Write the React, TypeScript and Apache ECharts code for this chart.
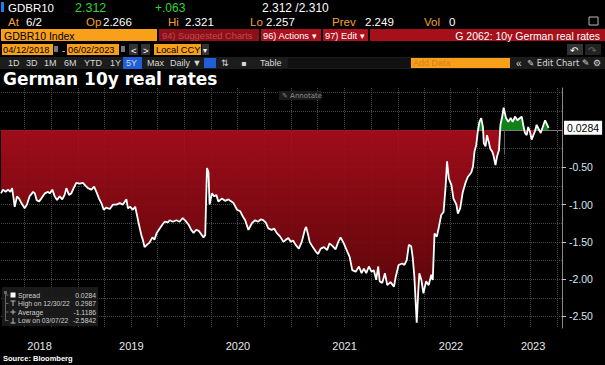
import React, { useEffect, useRef } from 'react';
import * as echarts from 'echarts';

// ---------------- data ----------------
const dates: string[] = [
  '2018-04-12','2018-04-19','2018-04-28','2018-05-06','2018-05-14','2018-05-20','2018-05-26','2018-05-29','2018-06-06','2018-06-13',
  '2018-06-21','2018-07-02','2018-07-10','2018-07-19','2018-07-31','2018-08-06','2018-08-12','2018-08-20','2018-08-28','2018-09-09',
  '2018-09-20','2018-09-26','2018-10-05','2018-10-13','2018-10-21','2018-10-30','2018-11-08','2018-11-16','2018-11-22','2018-12-01',
  '2018-12-09','2018-12-17','2018-12-26',
  '2019-01-07','2019-01-18','2019-01-27','2019-02-04','2019-02-16','2019-02-25','2019-03-05','2019-03-14','2019-03-22','2019-03-30',
  '2019-04-08','2019-04-20','2019-05-01','2019-05-13','2019-05-24','2019-06-04','2019-06-16','2019-06-21','2019-06-29','2019-07-08',
  '2019-07-16','2019-07-22','2019-07-29','2019-08-06','2019-08-11','2019-08-17','2019-08-25','2019-09-03','2019-09-13','2019-09-20',
  '2019-09-28','2019-10-08','2019-10-17','2019-10-25','2019-11-05','2019-11-11','2019-11-22','2019-12-04','2019-12-15','2019-12-26',
  '2020-01-07','2020-01-15','2020-01-24','2020-02-01','2020-02-10','2020-02-18','2020-02-26','2020-03-06','2020-03-12','2020-03-18',
  '2020-03-23','2020-03-27','2020-04-04','2020-04-12','2020-04-19','2020-04-26','2020-05-08','2020-05-19','2020-05-31','2020-06-06',
  '2020-06-17','2020-06-29','2020-07-10','2020-07-19','2020-07-27','2020-08-07','2020-08-19','2020-08-30','2020-09-10','2020-09-18',
  '2020-09-27','2020-10-07','2020-10-14','2020-10-26','2020-11-03','2020-11-12','2020-11-24','2020-12-05','2020-12-14','2020-12-22',
  '2020-12-31',
  '2021-01-07','2021-01-16','2021-01-27','2021-02-06','2021-02-17','2021-02-21','2021-02-28','2021-03-05','2021-03-14','2021-03-26',
  '2021-04-03','2021-04-12','2021-04-23','2021-05-04','2021-05-12','2021-05-21','2021-06-02','2021-06-11','2021-06-19','2021-06-30',
  '2021-07-12','2021-07-20','2021-07-29','2021-08-10','2021-08-21','2021-08-30','2021-09-07','2021-09-15','2021-09-24','2021-10-03',
  '2021-10-11','2021-10-19','2021-10-26','2021-10-31','2021-11-09','2021-11-18','2021-11-26','2021-12-07','2021-12-19','2021-12-25',
  '2022-01-04','2022-01-16','2022-01-24','2022-02-01','2022-02-08','2022-02-16','2022-02-21','2022-02-27','2022-03-03','2022-03-07',
  '2022-03-12','2022-03-16','2022-03-23','2022-03-30','2022-04-08','2022-04-17','2022-04-26','2022-05-01','2022-05-07','2022-05-15',
  '2022-05-22','2022-05-30','2022-06-07','2022-06-14','2022-06-19','2022-06-25','2022-07-04','2022-07-11','2022-07-21','2022-07-26',
  '2022-08-03','2022-08-12','2022-08-21','2022-08-29','2022-09-10','2022-09-16','2022-09-21','2022-09-27','2022-10-03','2022-10-08',
  '2022-10-14','2022-10-20','2022-10-23','2022-10-29','2022-11-03','2022-11-09','2022-11-14','2022-11-21','2022-11-25','2022-12-02',
  '2022-12-07','2022-12-14','2022-12-19','2022-12-25','2022-12-30',
  '2023-01-07','2023-01-15','2023-01-23','2023-01-30','2023-02-07','2023-02-15','2023-02-24','2023-03-02','2023-03-07','2023-03-13',
  '2023-03-19','2023-03-24','2023-03-30','2023-04-05','2023-04-11','2023-04-16','2023-04-22','2023-04-28','2023-05-06','2023-05-13',
  '2023-05-21','2023-05-26','2023-06-02'
];
const values: number[] = [
  -0.85,-0.80,-0.83,-0.80,-0.83,-0.78,-0.94,-1.03,-0.89,-0.92,
  -0.98,-1.05,-1.00,-0.89,-0.83,-0.85,-0.94,-0.96,-0.92,-0.85,
  -0.83,-0.85,-0.80,-0.89,-0.94,-0.89,-0.93,-0.87,-0.78,-0.87,
  -0.85,-0.78,-0.71,
  -0.72,-0.71,-0.75,-0.78,-0.80,-0.76,-0.83,-0.92,-0.98,-1.07,
  -1.04,-1.06,-1.00,-1.00,-0.98,-1.00,-0.93,-1.05,-1.03,-1.07,
  -1.03,-1.14,-1.27,-1.41,-1.47,-1.57,-1.54,-1.51,-1.44,-1.47,
  -1.38,-1.32,-1.27,-1.23,-1.24,-1.21,-1.23,-1.21,-1.23,-1.18,
  -1.23,-1.27,-1.34,-1.38,-1.34,-1.35,-1.39,-1.44,-1.41,-0.51,
  -0.56,-1.00,-0.85,-0.89,-0.87,-0.96,-0.92,-0.95,-0.93,-0.95,
  -0.98,-1.07,-1.09,-1.16,-1.21,-1.34,-1.25,-1.21,-1.23,-1.20,
  -1.21,-1.25,-1.32,-1.34,-1.32,-1.38,-1.43,-1.50,-1.47,-1.45,
  -1.50,
  -1.48,-1.54,-1.59,-1.50,-1.33,-1.30,-1.41,-1.50,-1.56,-1.63,
  -1.66,-1.59,-1.57,-1.61,-1.52,-1.55,-1.60,-1.50,-1.44,-1.52,
  -1.63,-1.70,-1.88,-1.90,-1.83,-1.92,-1.86,-1.92,-1.83,-1.90,
  -1.88,-2.01,-1.83,-2.03,-2.05,-1.92,-2.08,-2.04,-2.10,-1.97,
  -1.81,-1.79,-1.81,-1.74,-1.54,-1.56,-1.70,-1.97,-2.28,-2.5842,
  -2.19,-1.92,-2.01,-2.19,-2.03,-2.08,-1.94,-2.01,-1.39,-1.43,
  -1.30,-1.14,-1.10,-0.76,-0.42,-0.65,-0.74,-0.92,-1.00,-1.12,
  -1.05,-0.83,-0.71,-0.63,-0.57,-0.49,-0.29,-0.20,0.00,0.11,
  0.16,0.04,-0.18,-0.22,-0.07,-0.16,-0.25,-0.29,-0.34,-0.47,
  -0.36,-0.27,0.07,0.18,0.2987,
  0.16,0.11,0.16,0.11,0.18,0.13,0.16,0.18,0.07,-0.04,
  -0.07,0.04,-0.02,-0.13,-0.07,-0.02,0.07,0.02,-0.04,0.04,
  0.13,0.09,0.0284
];

const axisStart = '2018-04-12';
const axisEnd = '2023-07-18';
const yTickValues = [-2.5, -2.0, -1.5, -1.0, -0.5];
const yGridValues = [-2.5, -2.25, -2.0, -1.75, -1.5, -1.25, -1.0, -0.75, -0.5, -0.25, 0, 0.25, 0.5];
const years = [2018, 2019, 2020, 2021, 2022, 2023];

const legendNames = ['Spread', 'High on 12/30/22', 'Average', 'Low on 03/07/22'];
const legendValues = ['0.0284', '0.2987', '-1.1186', '-2.5842'];
const lastLabel = '0.0284';

const title = 'German 10y real rates';
const tickerName = 'GDBR10';
const quoteRow1 = ['2.312', '+.063', '2.312 /2.310'];
const quoteRow2Labels = ['At', 'Op', 'Hi', 'Lo', 'Prev', 'Vol'];
const quoteRow2Values = ['6/2', '2.266', '2.321', '2.257', '2.249', '0'];
const chartName = 'G 2062: 10y German real rates';
const periodButtons = ['1D', '3D', '1M', '6M', 'YTD', '1Y', '5Y', 'Max'];

// -------------- helpers --------------
const ts = (s: string) => Date.UTC(+s.slice(0, 4), +s.slice(5, 7) - 1, +s.slice(8, 10));
const FONT = '"Liberation Sans", Arial, sans-serif';

const T = (text: string, x: number, y: number, fill: string, size = 11, extra: any = {}) => ({
  type: 'text', x, y, silent: true, z: 101,
  style: { text, fill, fontSize: size, fontFamily: FONT, verticalAlign: 'middle', ...extra },
});
const R = (x: number, y: number, w: number, h: number, fill: string, extra: any = {}) => ({
  type: 'rect', silent: true, z: 100,
  shape: { x, y, width: w, height: h }, style: { fill, ...extra },
});
const L = (x1: number, y1: number, x2: number, y2: number, stroke: string, w = 1) => ({
  type: 'line', silent: true, z: 101,
  shape: { x1, y1, x2, y2 }, style: { stroke, lineWidth: w },
});

export default function App() {
  const ref = useRef<HTMLDivElement>(null);

  useEffect(() => {
    if (!ref.current) return;
    const chart = echarts.init(ref.current, null, { renderer: 'svg' });

    const xMin = ts(axisStart);
    const xMax = ts(axisEnd);
    const yearStarts = years.slice(1).map((y) => Date.UTC(y, 0, 1));
    const quarterStarts: number[] = [];
    years.forEach((y) => [0, 3, 6, 9].forEach((m) => {
      const t = Date.UTC(y, m, 1);
      if (t > xMin && t < xMax) quarterStarts.push(t);
    }));
    const labelMids = years.map((y) => {
      const a = Math.max(xMin, Date.UTC(y, 0, 1));
      const b = Math.min(xMax, Date.UTC(y + 1, 0, 1));
      return (a + b) / 2;
    });

    const pts = dates.map((d, i) => [ts(d), values[i]]);
    const neg = dates.map((d, i) => [ts(d), Math.min(values[i], 0)]);
    const pos = dates.map((d, i) => [ts(d), Math.max(values[i], 0)]);
    const last = values[values.length - 1];

    const orange = '#f9a01b';
    const amber = '#f5a12e';
    const red = '#ad111d';
    const green = '#2fd52f';

    const graphics: any[] = [];
    // Row 1
    graphics.push(R(1, 2, 3, 10, '#1e7cf2'));
    graphics.push(T(tickerName, 8, 7.5, '#ffffff', 11.5));
    graphics.push(T(quoteRow1[0], 75, 7.5, green, 12.5));
    graphics.push(T(quoteRow1[1], 155, 7.5, green, 12));
    graphics.push(T(quoteRow1[2], 262, 7.5, '#ffffff', 12));
    // Row 2
    const r2x = [8, 86, 168, 250, 332, 424];
    const r2v = [26, 103, 185, 266, 365, 449];
    quoteRow2Labels.forEach((l, i) => {
      graphics.push(T(l, r2x[i], 21.5, amber, 11.5));
      graphics.push(T(quoteRow2Values[i], r2v[i], 21.5, '#ffffff', 11.5));
    });
    graphics.push(R(589, 17, 9, 8, 'transparent', { stroke: '#bbbbbb', lineWidth: 1 }));
    // Row 3
    graphics.push(R(1, 29, 156, 12, orange));
    graphics.push(T(tickerName + ' Index', 4, 35.5, '#000000', 10.5));
    graphics.push(R(159, 29, 100, 12, '#8e0f18'));
    graphics.push(T('94) Suggested Charts', 162, 35.5, '#c04a52', 9.3));
    graphics.push(R(261, 29, 60, 12, red));
    graphics.push(T('96) Actions ▾', 263, 35.5, '#ffffff', 9.3));
    graphics.push(R(323, 29, 45, 12, red));
    graphics.push(T('97) Edit ▾', 325, 35.5, '#ffffff', 9.3));
    graphics.push(R(370, 29, 235, 12, '#a5101b'));
    graphics.push(T(chartName, 600, 35.5, '#ffffff', 10.5, { align: 'right' }));
    // Row 4
    graphics.push(R(2, 44, 51, 11, orange));
    graphics.push(T('04/12/2018', 3, 50, '#000000', 9.3));
    graphics.push(R(54, 46, 4, 6, '#777777'));
    graphics.push(T('-', 62, 50, '#cccccc', 10));
    graphics.push(R(67, 44, 52, 11, orange));
    graphics.push(T('06/02/2023', 68, 50, '#000000', 9.3));
    graphics.push(R(121, 46, 4, 6, '#777777'));
    graphics.push(R(129, 44, 9, 11, '#333333'));
    graphics.push(T('<', 131, 50, '#ffffff', 9.5));
    graphics.push(R(141, 44, 9, 11, '#333333'));
    graphics.push(T('>', 143, 50, '#ffffff', 9.5));
    graphics.push(R(154, 44, 47, 11, orange));
    graphics.push(T('Local CCY', 156, 50, '#000000', 9.3));
    graphics.push(R(202, 44, 7, 11, '#333333'));
    graphics.push(T('▾', 203, 50, '#ffffff', 8));
    graphics.push(R(567, 44, 16, 11, '#333333'));
    graphics.push(T('↶', 570, 50, '#ffffff', 10, { fontFamily: 'DejaVu Sans' }));
    graphics.push(R(585, 44, 16, 11, '#222222'));
    graphics.push(T('↷', 588, 50, '#666666', 10, { fontFamily: 'DejaVu Sans' }));
    // Row 5 toolbar
    graphics.push(R(0, 57, 605, 12, '#1c1c1c'));
    const pbx = [8, 26, 44, 64, 84, 110, 126, 147];
    periodButtons.forEach((b, i) => {
      if (b === '5Y') graphics.push(R(123, 57, 19, 12, '#1f5fd8'));
      graphics.push(T(b, pbx[i], 63, '#d8d8d8', 9));
    });
    graphics.push(T('Daily ▼', 170, 63, '#d8d8d8', 9));
    graphics.push(R(204, 58, 12, 10, '#1f5fd8'));
    graphics.push(T('⇅', 221, 63, '#d8d8d8', 9, { fontFamily: 'DejaVu Sans' }));
    graphics.push(T('▪', 241, 63, '#d8d8d8', 8, { fontFamily: 'DejaVu Sans' }));
    graphics.push(T('Table', 260, 63, '#d8d8d8', 9));
    graphics.push(R(288, 58, 122, 10, '#111111'));
    graphics.push(R(411, 58, 99, 10, orange));
    graphics.push(T('Add Data', 413, 63, '#d1811a', 9));
    graphics.push(T('«', 516, 63, '#d8d8d8', 10));
    graphics.push(T('✎ Edit Chart', 527, 63, '#d8d8d8', 8.5, { fontFamily: '"DejaVu Sans", sans-serif' }));
    graphics.push(T('✎', 582, 63, '#d8d8d8', 9, { fontFamily: 'DejaVu Sans' }));
    graphics.push(T('⚙', 593, 63, '#d8d8d8', 9, { fontFamily: 'DejaVu Sans' }));
    // Title
    graphics.push(T(title, 3, 79, '#ffffff', 17, { fontWeight: 'bold', fontFamily: '"DejaVu Sans", sans-serif' }));
    // Annotate
    graphics.push(R(279, 91, 42, 9, '#1a1a1a'));
    graphics.push(T('✎ Annotate', 282, 95.5, '#8c8c8c', 7, { fontFamily: '"DejaVu Sans", sans-serif' }));
    // Legend box
    graphics.push(R(2, 287, 96, 39, 'rgba(28,28,28,0.9)'));
    graphics.push(R(4, 291, 3, 3, '#666666'));
    graphics.push(L(5.5, 294, 5.5, 321, '#666666'));
    const rowY = [295, 303.5, 312, 320.5];
    rowY.forEach((y) => graphics.push(L(5.5, y, 8.5, y, '#666666')));
    graphics.push(R(10.5, 292.5, 5, 5, '#ffffff'));
    graphics.push(L(10.5, rowY[1] - 2.5, 15.5, rowY[1] - 2.5, '#bbbbbb'));
    graphics.push(L(13, rowY[1] - 2.5, 13, rowY[1] + 2.5, '#bbbbbb'));
    graphics.push(L(10.5, rowY[2], 15.5, rowY[2], '#bbbbbb'));
    graphics.push(L(13, rowY[2] - 2.5, 13, rowY[2] + 2.5, '#bbbbbb'));
    graphics.push(L(10.5, rowY[3] + 2.5, 15.5, rowY[3] + 2.5, '#bbbbbb'));
    graphics.push(L(13, rowY[3] - 2.5, 13, rowY[3] + 2.5, '#bbbbbb'));
    legendNames.forEach((n, i) => {
      graphics.push(T(n, 18, rowY[i], '#cfcfcf', 6.8));
      graphics.push(T(legendValues[i], 96, rowY[i], '#cfcfcf', 6.8, { align: 'right' }));
    });
    // Source
    graphics.push(T('Source: Bloomberg', 3, 358.5, '#ffffff', 7.5, { fontWeight: 'bold' }));

    const option: any = {
      animation: false,
      backgroundColor: '#000000',
      grid: { left: 1, right: 43, top: 88, bottom: 37, containLabel: false },
      xAxis: [
        {
          type: 'value', min: xMin, max: xMax,
          axisLine: { show: true, lineStyle: { color: '#7c7c7c', width: 1 } },
          axisTick: { show: true, customValues: yearStarts, length: 24, lineStyle: { color: '#5e5e5e' } },
          axisLabel: {
            show: true, customValues: labelMids, margin: 12, color: '#e6e6e6', fontSize: 11, fontFamily: FONT,
            formatter: (v: number) => String(new Date(v).getUTCFullYear()),
          },
          splitLine: { show: false },
        },
        {
          type: 'value', min: xMin, max: xMax, position: 'bottom',
          axisLine: { show: false },
          axisTick: { show: true, customValues: quarterStarts, length: 3, lineStyle: { color: '#5e5e5e' } },
          axisLabel: { show: false },
          splitLine: { show: true, lineStyle: { color: '#474747', type: 'dotted', width: 1 } },
        },
      ],
      yAxis: [
        {
          type: 'value', position: 'right', min: -2.655, max: 0.563,
          axisLine: { show: true, lineStyle: { color: '#8a8a8a' } },
          axisTick: { show: true, customValues: yTickValues, length: 4, lineStyle: { color: '#c8c8c8' } },
          axisLabel: {
            show: true, customValues: yTickValues, margin: 7, color: '#dce4ec', fontSize: 10.5, fontFamily: FONT,
            formatter: (v: number) => v.toFixed(2),
          },
          splitLine: { show: false },
        },
        {
          type: 'value', position: 'right', min: -2.655, max: 0.563,
          axisLine: { show: false },
          axisTick: { show: false, customValues: yGridValues },
          axisLabel: { show: false },
          splitLine: { show: true, lineStyle: { color: '#474747', type: 'dotted', width: 1 } },
        },
      ],
      series: [
        {
          type: 'line', data: neg, showSymbol: false, symbol: 'none', z: 2, silent: true,
          lineStyle: { width: 0, color: 'rgba(0,0,0,0)' },
          areaStyle: {
            origin: 0, opacity: 0.94,
            color: new echarts.graphic.LinearGradient(0, 0, 0, 1, [
              { offset: 0, color: '#a80d1b' },
              { offset: 1, color: '#560508' },
            ]),
          },
        },
        {
          type: 'line', data: pos, showSymbol: false, symbol: 'none', z: 2, silent: true,
          lineStyle: { width: 0, color: 'rgba(0,0,0,0)' },
          areaStyle: { origin: 0, opacity: 0.95, color: '#12891a' },
        },
        {
          type: 'line', data: pts, showSymbol: false, symbol: 'none', z: 3, silent: true,
          lineStyle: { width: 1.8, color: '#ffffff' },
          markLine: {
            silent: true, symbol: ['none', 'none'],
            lineStyle: { width: 0, color: 'rgba(0,0,0,0)' },
            data: [{ yAxis: last }],
            label: {
              show: true, position: 'end', distance: 2,
              formatter: () => lastLabel,
              color: '#000000', backgroundColor: '#ffffff', padding: [2, 3, 1, 3],
              fontSize: 10.5, fontFamily: FONT,
            },
          },
        },
      ],
      graphic: { elements: graphics },
    };

    chart.setOption(option);
    return () => chart.dispose();
  }, []);

  return (
    <div
      ref={ref}
      style={{ position: 'fixed', left: 0, top: 0, width: 605, height: 365, background: '#000' }}
    />
  );
}
